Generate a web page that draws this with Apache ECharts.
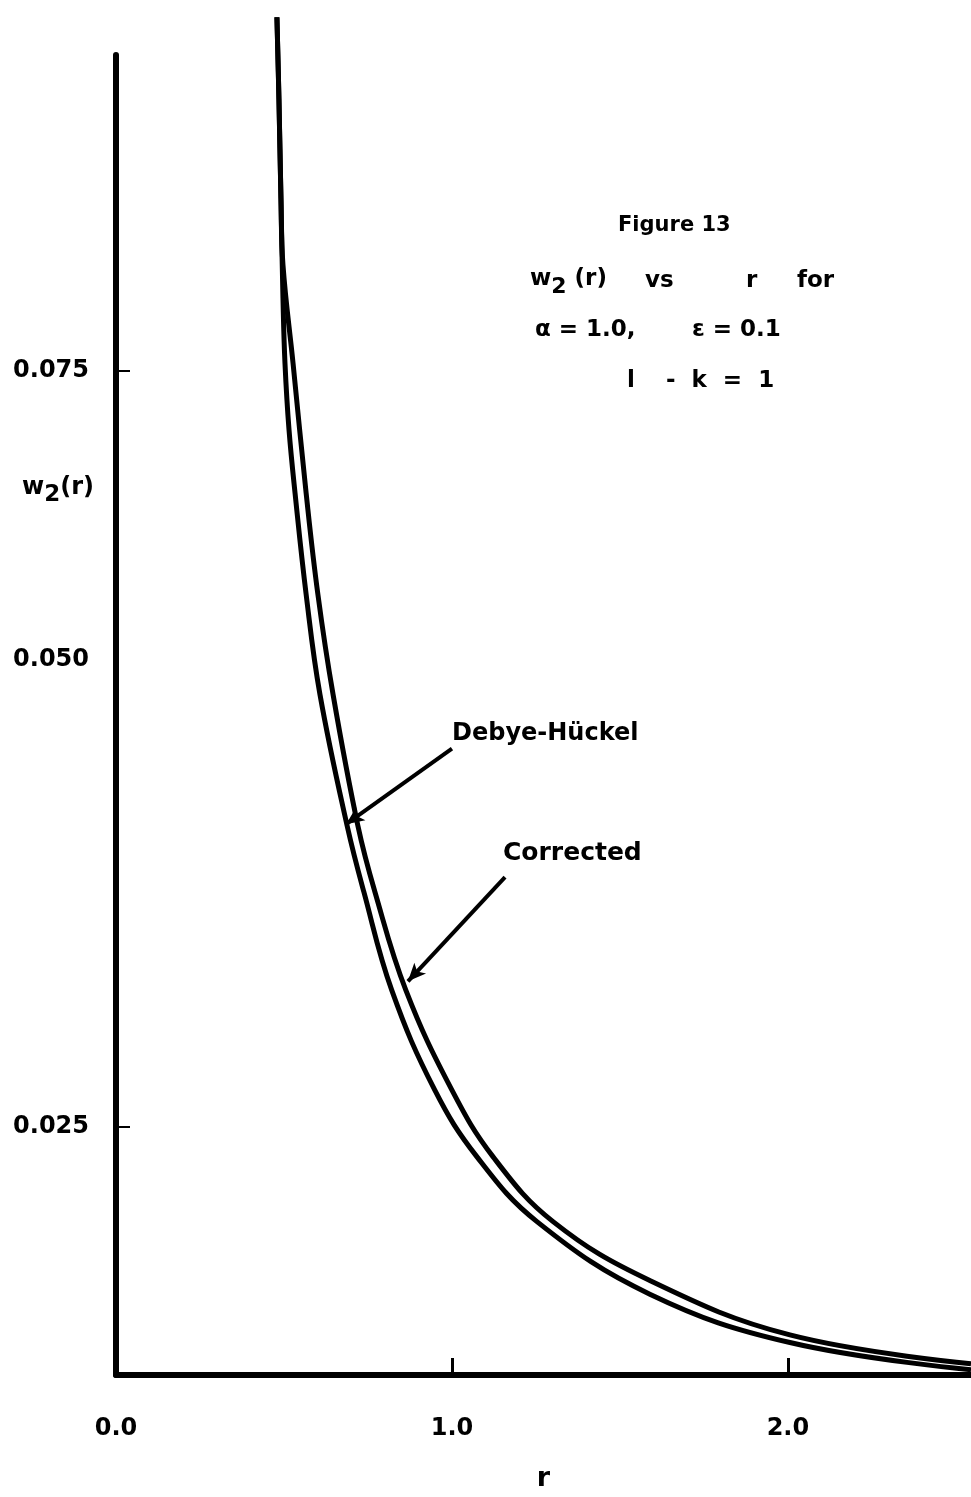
<!DOCTYPE html>
<html>
<head>
<meta charset="utf-8">
<script src="https://cdn.jsdelivr.net/npm/echarts@6/dist/echarts.min.js"></script>
<style>
  html, body { margin: 0; padding: 0; background: #fff; }
  #main { width: 971px; height: 1497px; }
</style>
</head>
<body>
<div id="main"></div>
<script>
// curves, [r, w2(r)]
var debyeHuckel = [
    [0.479, 0.0984], [0.485, 0.0930], [0.491, 0.0864], [0.497, 0.0820],
    [0.527, 0.0755], [0.566, 0.0669], [0.601, 0.0602], [0.646, 0.0536],
    [0.720, 0.0449], [0.771, 0.0405], [0.863, 0.0340], [1.000, 0.0274],
    [1.122, 0.0230], [1.301, 0.0187], [1.589, 0.0148], [2.006, 0.0112],
    [2.545, 0.0093]
];
var corrected = [
    [0.479, 0.0984], [0.485, 0.0930], [0.491, 0.0864], [0.497, 0.0798],
    [0.503, 0.0755], [0.515, 0.0711], [0.533, 0.0669], [0.566, 0.0602],
    [0.607, 0.0536], [0.688, 0.0449], [0.738, 0.0405], [0.821, 0.0340],
    [0.949, 0.0274], [1.074, 0.0230], [1.253, 0.0187], [1.589, 0.0139],
    [2.006, 0.0107], [2.545, 0.0089]
];

var xTickVals = [1, 2];
var xLabelVals = [0, 1, 2];
var yTickVals = [0.025, 0.075];
// the scan prints "0.050" well above where 0.050 falls on its own ticks
var yLabelVals = [0.025, 0.0559, 0.075];
var yLabelText = ['0.025', '0.050', '0.075'];

var FONT = 'DejaVu Sans';

function txt(x, y, s, size) {
    return { type: 'text', left: x, top: y, style: { text: s, font: 'bold ' + size + 'px "DejaVu Sans"', fill: '#000' } };
}
function subTxt(x, y, a, b, c, size) {
    return {
        type: 'text', left: x, top: y,
        style: {
            text: '{t|' + a + '}{s|' + b + '}{t|' + c + '}',
            rich: {
                t: { font: 'bold ' + size + 'px "DejaVu Sans"', fill: '#000' },
                s: { font: 'bold ' + (size - 1) + 'px "DejaVu Sans"', fill: '#000', padding: [15, 0, 0, 0] }
            }
        }
    };
}

var myChart = echarts.init(document.getElementById('main'));

var lineStyle = { color: '#000', width: 5 };

var option = {
    backgroundColor: '#fff',
    animation: false,
    grid: { left: 116, right: 0, top: 55, bottom: 109 },
    xAxis: {
        type: 'value',
        min: 0,
        max: 2.545,
        name: 'r',
        nameLocation: 'middle',
        nameGap: 90,
        nameTextStyle: { fontFamily: FONT, fontWeight: 'bold', fontSize: 27, color: '#000' },
        axisLine: { onZero: false, lineStyle: { color: '#000', width: 6 } },
        axisTick: { inside: true, length: 17, customValues: xTickVals, lineStyle: { color: '#000', width: 3 } },
        axisLabel: {
            customValues: xLabelVals,
            margin: 42,
            fontFamily: FONT, fontWeight: 'bold', fontSize: 24, color: '#000',
            formatter: function (v) { return v.toFixed(1); }
        },
        splitLine: { show: false }
    },
    yAxis: {
        type: 'value',
        min: 0.00855,
        max: 0.0959,
        axisLine: { onZero: false, lineStyle: { color: '#000', width: 6 } },
        axisTick: { inside: true, length: 14, customValues: yTickVals, lineStyle: { color: '#000', width: 2 } },
        axisLabel: {
            customValues: yLabelVals,
            margin: 27,
            fontFamily: FONT, fontWeight: 'bold', fontSize: 24, color: '#000',
            formatter: function (v) {
                var i = yLabelVals.indexOf(v);
                return i >= 0 ? yLabelText[i] : '';
            }
        },
        splitLine: { show: false }
    },
    series: [{
        name: 'Debye-Hückel',
        type: 'line',
        data: debyeHuckel,
        smooth: 0.4,
        showSymbol: false,
        clip: false,
        lineStyle: lineStyle,
        markLine: {
            silent: true,
            symbol: ['none', 'arrow'],
            symbolSize: [12, 18],
            label: { show: false },
            lineStyle: { color: '#000', width: 4, type: 'solid' },
            data: [
                [{ coord: [1.0, 0.0500] }, { coord: [0.685, 0.0450] }],
                [{ coord: [1.158, 0.0415] }, { coord: [0.869, 0.0346] }]
            ]
        }
    }, {
        name: 'Corrected',
        type: 'line',
        data: corrected,
        smooth: 0.4,
        showSymbol: false,
        clip: false,
        lineStyle: lineStyle
    }],
    graphic: [
        txt(618, 215, 'Figure 13', 21),
        subTxt(530, 268, 'w', '2', ' (r)', 23),
        txt(645, 270, 'vs', 23),
        txt(746, 270, 'r', 23),
        txt(797, 270, 'for', 23),
        txt(535, 319, 'α = 1.0,', 23),
        txt(692, 319, 'ε = 0.1', 23),
        txt(627, 370, 'l', 23),
        txt(666, 370, '-  k  =  1', 23),
        subTxt(22, 476, 'w', '2', '(r)', 24),
        txt(452, 722, 'Debye-Hückel', 24),
        txt(503, 841, 'Corrected', 25)
    ]
};

myChart.setOption(option);
</script>
</body>
</html>
